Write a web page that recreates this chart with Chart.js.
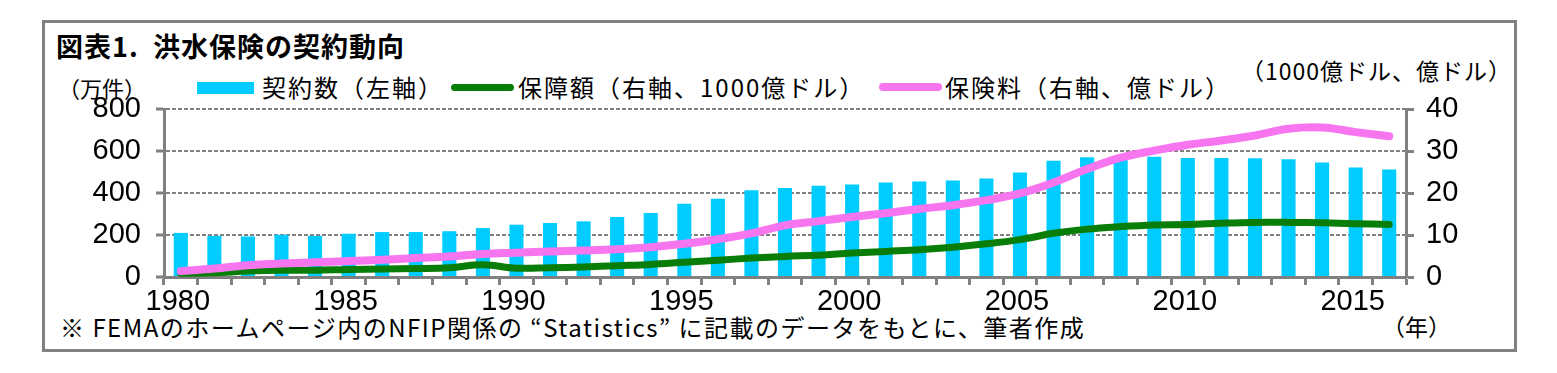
<!DOCTYPE html>
<html>
<head>
<meta charset="utf-8">
<script src="https://cdn.jsdelivr.net/npm/chart.js@4"></script>
<style>
body { margin: 0; background: #fff; width: 1557px; height: 373px; overflow: hidden; position: relative;
       font-family: "Noto Sans CJK JP", sans-serif; color: #000; }
.frame { position: absolute; left: 42px; top: 20px; width: 1469px; height: 326px; border: 3px solid #808080; }
.t { position: absolute; white-space: nowrap; line-height: 1; }
#title { left: 56px; top: 32px; font-size: 27px; font-weight: bold; letter-spacing: 1px; }
#unitL { left: 58px; top: 76px; font-size: 22px; }
#unitR { left: 1241px; top: 59px; font-size: 23px; letter-spacing: 1px; }
.sw { position: absolute; }
#lg1 { left: 197px; top: 82px; width: 57px; height: 12px; background: #00ccff; }
#lg2 { left: 451px; top: 84px; width: 63px; height: 7px; background: #087d08; border-radius: 4px; }
#lg3 { left: 879px; top: 83px; width: 63px; height: 8px; background: #f875f0; border-radius: 4px; }
.lt { top: 75px; font-size: 24px; letter-spacing: 2px; }
#lt1 { left: 262px; }
#lt2 { left: 518px; }
#lt3 { left: 945px; }
#note { left: 60px; top: 315px; font-size: 24px; letter-spacing: 1.5px; font-family: "Liberation Sans Narrow", "Noto Sans CJK JP", sans-serif; }
#nen { left: 1382px; top: 315px; font-size: 23px; }
#wrap { position: absolute; left: 44px; top: 64px; width: 1470px; height: 263px; }
</style>
</head>
<body>
<div class="frame"></div>
<div class="t" id="title">図表1.&nbsp;&nbsp;洪水保険の契約動向</div>
<div class="t" id="unitL">（万件）</div>
<div class="t" id="unitR">（1000億ドル、億ドル）</div>
<div class="sw" id="lg1"></div><div class="t lt" id="lt1">契約数（左軸）</div>
<div class="sw" id="lg2"></div><div class="t lt" id="lt2">保障額（右軸、1000億ドル）</div>
<div class="sw" id="lg3"></div><div class="t lt" id="lt3">保険料（右軸、億ドル）</div>
<div class="t" id="note">※ FEMAのホームページ内のNFIP関係の “Statistics” に記載のデータをもとに、筆者作成</div>
<div class="t" id="nen">（年）</div>
<div id="wrap"><canvas id="grafico"></canvas></div>
<script>
// dados
const anos = [1980, 1981, 1982, 1983, 1984, 1985, 1986, 1987, 1988, 1989,
  1990, 1991, 1992, 1993, 1994, 1995, 1996, 1997, 1998, 1999,
  2000, 2001, 2002, 2003, 2004, 2005, 2006, 2007, 2008, 2009,
  2010, 2011, 2012, 2013, 2014, 2015, 2016];
// 契約数 (万件)
const contratos = [210, 196, 193, 201, 196, 206, 214, 214, 218, 233,
  249, 257, 265, 286, 305, 349, 373, 413, 424, 435,
  440, 450, 455, 459, 469, 498, 554, 570, 565, 573,
  567, 567, 565, 561, 545, 522, 512];
// 保障額 (1000億ドル)
const cobertura = [0.9, 1.0, 1.4, 1.6, 1.6, 1.8, 1.9, 2.0, 2.2, 2.9,
  2.1, 2.2, 2.4, 2.7, 3.0, 3.5, 4.0, 4.5, 4.9, 5.2,
  5.7, 6.1, 6.5, 7.1, 7.9, 8.9, 10.4, 11.4, 12.0, 12.4,
  12.5, 12.8, 13.0, 13.0, 12.9, 12.7, 12.5];
// 保険料 (億ドル)
const premio = [1.4, 2.0, 2.8, 3.2, 3.5, 3.8, 4.1, 4.5, 4.9, 5.5,
  5.8, 6.1, 6.3, 6.6, 7.1, 7.9, 9.0, 10.4, 12.3, 13.3,
  14.3, 15.2, 16.2, 17.1, 18.3, 19.9, 22.5, 25.7, 28.4, 30.1,
  31.5, 32.5, 33.7, 35.3, 35.6, 34.5, 33.5];
const ticksEsq = [0, 200, 400, 600, 800];
const ticksDir = [0, 10, 20, 30, 40];

const cinza = '#808080';
const fonteNum = { family: "'Liberation Sans Narrow', 'Arial Narrow', sans-serif", size: 29 };

const ctx = document.getElementById('grafico');
new Chart(ctx, {
  data: {
    labels: anos,
    datasets: [
      {
        type: 'line', label: '保険料', data: premio, yAxisID: 'y1',
        borderColor: '#f875f0', borderWidth: 8, pointRadius: 0, tension: 0.4,
        borderCapStyle: 'round', order: 1
      },
      {
        type: 'line', label: '保障額', data: cobertura, yAxisID: 'y1',
        borderColor: '#087d08', borderWidth: 7, pointRadius: 0, tension: 0.4,
        borderCapStyle: 'round', order: 2
      },
      {
        type: 'bar', label: '契約数', data: contratos, yAxisID: 'y',
        backgroundColor: '#00ccff', barPercentage: 0.42, categoryPercentage: 1, order: 3
      }
    ]
  },
  options: {
    responsive: true,
    maintainAspectRatio: false,
    animation: false,
    layout: { padding: { top: 45, left: 0, right: 0, bottom: 0 } },
    plugins: { legend: { display: false }, tooltip: { enabled: false } },
    scales: {
      x: {
        type: 'category',
        offset: true,
        grid: { offset: true, drawOnChartArea: false, drawTicks: true, tickLength: 8, tickColor: cinza, tickWidth: 3 },
        border: { color: cinza, width: 3 },
        ticks: {
          autoSkip: false, maxRotation: 0, minRotation: 0, padding: 0,
          labelOffset: -3, color: '#000', font: fonteNum,
          callback: function (v) {
            const ano = anos[v];
            return ano % 5 === 0 ? String(ano) : '';
          }
        },
        afterFit: function (s) { s.height = 50; }
      },
      y: {
        position: 'left', min: 0, max: 800,
        afterBuildTicks: function (s) { s.ticks = ticksEsq.map(v => ({ value: v })); },
        grid: { color: cinza, lineWidth: 2, tickLength: 8, tickColor: cinza, tickWidth: 3, tickBorderDash: [] },
        border: { color: cinza, width: 3, dash: [4, 2] },
        ticks: { autoSkip: false, color: '#000', font: fonteNum, padding: 15 },
        afterFit: function (s) { s.width = 120; }
      },
      y1: {
        position: 'right', min: 0, max: 40,
        afterBuildTicks: function (s) { s.ticks = ticksDir.map(v => ({ value: v })); },
        grid: { drawOnChartArea: false, tickLength: 8, tickColor: cinza, tickWidth: 3 },
        border: { color: cinza, width: 3 },
        ticks: { autoSkip: false, color: '#000', font: fonteNum, padding: 12 },
        afterFit: function (s) { s.width = 108; }
      }
    }
  }
});
</script>
</body>
</html>
